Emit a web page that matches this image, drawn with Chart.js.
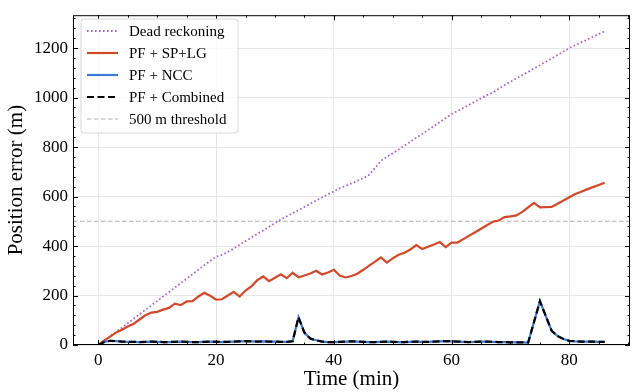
<!DOCTYPE html>
<html>
<head>
<meta charset="utf-8">
<script src="https://cdn.jsdelivr.net/npm/chart.js@4.4.1/dist/chart.umd.min.js"></script>
<style>
  html, body { margin: 0; padding: 0; background: #fff; }
  #wrap { width: 633px; height: 392px; }
</style>
</head>
<body>
<div id="wrap"><canvas id="errChart" width="633" height="392"></canvas></div>
<script>
// time axis (minutes)
const minutes = [0,1,2,3,4,5,6,7,8,9,10,11,12,13,14,15,16,17,18,19,20,21,22,23,24,25,26,27,28,29,
  30,31,32,33,34,35,36,37,38,39,40,41,42,43,44,45,46,47,48,49,50,51,52,53,54,55,56,57,58,59,
  60,61,62,63,64,65,66,67,68,69,70,71,72,73,74,75,76,77,78,79,80,81,82,83,84,85,86];

// position error (m) per series
const deadReckoning = [0,17,35,53,70,88,106,124,142,160,178,196,214,232,250,268,286,304,322,340,
  357,364,376,390,405,420,434,449,463,478,493,507,520,533,545,558,571,584,596,609,
  621,633,643,653,664,674,688,715,745,760,775,790,806,822,838,853,869,885,901,917,
  933,946,958,971,984,997,1010,1020,1036,1051,1064,1078,1091,1104,1118,1131,1145,1158,1172,1186,
  1200,1212,1223,1234,1246,1257,1268];
const pfSpLg = [0,18,34,50,62,75,86,103,120,131,134,143,150,167,161,176,177,196,211,199,
  183,185,200,215,196,220,237,262,277,258,272,286,270,292,274,281,289,300,285,293,
  304,281,273,279,288,304,321,337,354,333,350,365,373,386,404,388,397,406,416,396,
  414,414,428,442,456,470,484,498,503,517,520,524,538,556,574,556,557,558,571,584,
  597,610,619,629,638,647,656];
const pfNcc = [0,12,17,16,14,13,13,12,13,14,13,12,12,13,14,13,12,12,13,14,
  13,12,13,14,15,16,15,14,15,14,14,13,13,15,112,50,26,19,14,12,
  12,13,14,15,14,13,12,12,13,14,13,12,12,13,14,13,13,14,15,16,
  15,14,13,12,13,14,14,13,12,12,11,11,11,10,93,177,117,57,36,24,
  17,15,14,14,14,13,13];
const pfCombined = [0,12,17,16,14,13,13,12,13,14,13,12,12,13,14,13,12,12,13,14,
  13,12,13,14,15,16,15,14,15,14,14,13,13,15,112,50,26,19,14,12,
  12,13,14,15,14,13,12,12,13,14,13,12,12,13,14,13,13,14,15,16,
  15,14,13,12,13,14,14,13,12,12,11,11,11,10,93,177,117,57,36,24,
  17,15,14,14,14,13,13];
const threshold = 500;

// axis ranges and ticks
const xMin = -4.3, xMax = 90.3, xStep = 20, xMinor = 5;
const yMin = 0, yMax = 1333, yStep = 200, yMinor = 40;

const serif = "'Liberation Serif', 'Times New Roman', serif";

function series(vals) {
  return minutes.map((t, i) => ({ x: t, y: vals[i] }));
}

// frame, inward ticks on all four sides, and the boxed legend
const framePlugin = {
  id: 'frameTicks',
  afterDraw(chart) {
    const ctx = chart.ctx;
    const a = chart.chartArea;
    const xs = chart.scales.x, ys = chart.scales.y;
    ctx.save();
    ctx.strokeStyle = '#000';
    ctx.lineWidth = 1;
    ctx.strokeRect(a.left + 0.5, a.top + 0.5, a.right - a.left - 1, a.bottom - a.top - 1);

    ctx.beginPath();
    for (let v = Math.ceil(xMin / xMinor) * xMinor; v <= xMax; v += xMinor) {
      const px = Math.round(xs.getPixelForValue(v)) + 0.5;
      const len = v % xStep === 0 ? 5 : 2.5;
      ctx.moveTo(px, a.bottom); ctx.lineTo(px, a.bottom - len);
      ctx.moveTo(px, a.top); ctx.lineTo(px, a.top + len);
    }
    for (let v = yMin; v <= yMax; v += yMinor) {
      const py = Math.round(ys.getPixelForValue(v)) + 0.5;
      const len = v % yStep === 0 ? 5 : 2.5;
      ctx.moveTo(a.left, py); ctx.lineTo(a.left + len, py);
      ctx.moveTo(a.right, py); ctx.lineTo(a.right - len, py);
    }
    ctx.stroke();

    // legend
    const lx = 81, ly = 19, lw = 157, lh = 114, r = 3;
    ctx.beginPath();
    ctx.moveTo(lx + r, ly);
    ctx.arcTo(lx + lw, ly, lx + lw, ly + lh, r);
    ctx.arcTo(lx + lw, ly + lh, lx, ly + lh, r);
    ctx.arcTo(lx, ly + lh, lx, ly, r);
    ctx.arcTo(lx, ly, lx + lw, ly, r);
    ctx.closePath();
    ctx.fillStyle = 'rgba(255,255,255,0.8)';
    ctx.fill();
    ctx.strokeStyle = '#d6d6d6';
    ctx.lineWidth = 1;
    ctx.stroke();

    ctx.font = '15px ' + serif;
    ctx.textBaseline = 'middle';
    chart.data.datasets.forEach((ds, i) => {
      const y = 31 + i * 22;
      ctx.beginPath();
      ctx.setLineDash(ds.borderDash || []);
      ctx.strokeStyle = ds.borderColor;
      ctx.lineWidth = ds.borderWidth;
      ctx.moveTo(87, y); ctx.lineTo(118, y);
      ctx.stroke();
      ctx.setLineDash([]);
      ctx.fillStyle = '#000';
      ctx.fillText(ds.label, 129, y + 1);
    });
    ctx.restore();
  }
};

new Chart('errChart', {
  type: 'line',
  data: {
    datasets: [
      { label: 'Dead reckoning', data: series(deadReckoning), borderColor: '#a35fd6',
        borderWidth: 1.8, borderDash: [1.6, 2.4], order: 3 },
      { label: 'PF + SP+LG', data: series(pfSpLg), borderColor: '#d4482a',
        borderWidth: 2.2, order: 2 },
      { label: 'PF + NCC', data: series(pfNcc), borderColor: '#3a7ad6',
        borderWidth: 2.2, order: 1 },
      { label: 'PF + Combined', data: series(pfCombined), borderColor: '#000000',
        borderWidth: 2.2, borderDash: [7, 3.5], order: 0 },
      { label: '500 m threshold', data: [{ x: xMin, y: threshold }, { x: xMax, y: threshold }],
        borderColor: '#b0b0b0', borderWidth: 1.1, borderDash: [4.5, 2.5], order: 4 }
    ]
  },
  options: {
    responsive: false,
    animation: false,
    devicePixelRatio: 1,
    layout: { padding: { left: 0, top: 12, right: 3, bottom: 0 } },
    elements: { point: { radius: 0 }, line: { tension: 0, fill: false, borderCapStyle: 'butt' } },
    plugins: { legend: { display: false }, tooltip: { enabled: false } },
    scales: {
      x: {
        type: 'linear', min: xMin, max: xMax,
        afterFit(scale) { scale.height = 47; },
        grid: { color: '#e6e6e6', lineWidth: 1, drawTicks: false },
        border: { display: false },
        ticks: { stepSize: xStep, includeBounds: false, padding: 5, color: '#000',
                 format: { useGrouping: false },
                 font: { family: serif, size: 17 } },
        title: { display: true, text: 'Time (min)', color: '#000',
                 font: { family: serif, size: 21, lineHeight: 1.2 }, padding: { top: 0, bottom: 0 } }
      },
      y: {
        type: 'linear', min: yMin, max: yMax,
        afterFit(scale) { scale.width = 73; },
        grid: { color: '#e6e6e6', lineWidth: 1, drawTicks: false },
        border: { display: false },
        ticks: { stepSize: yStep, includeBounds: false, padding: 5, color: '#000',
                 format: { useGrouping: false },
                 font: { family: serif, size: 17 } },
        title: { display: true, text: 'Position error (m)', color: '#000',
                 font: { family: serif, size: 21, lineHeight: 1.2 }, padding: { top: 4, bottom: 0 } }
      }
    }
  },
  plugins: [framePlugin]
});
</script>
</body>
</html>
